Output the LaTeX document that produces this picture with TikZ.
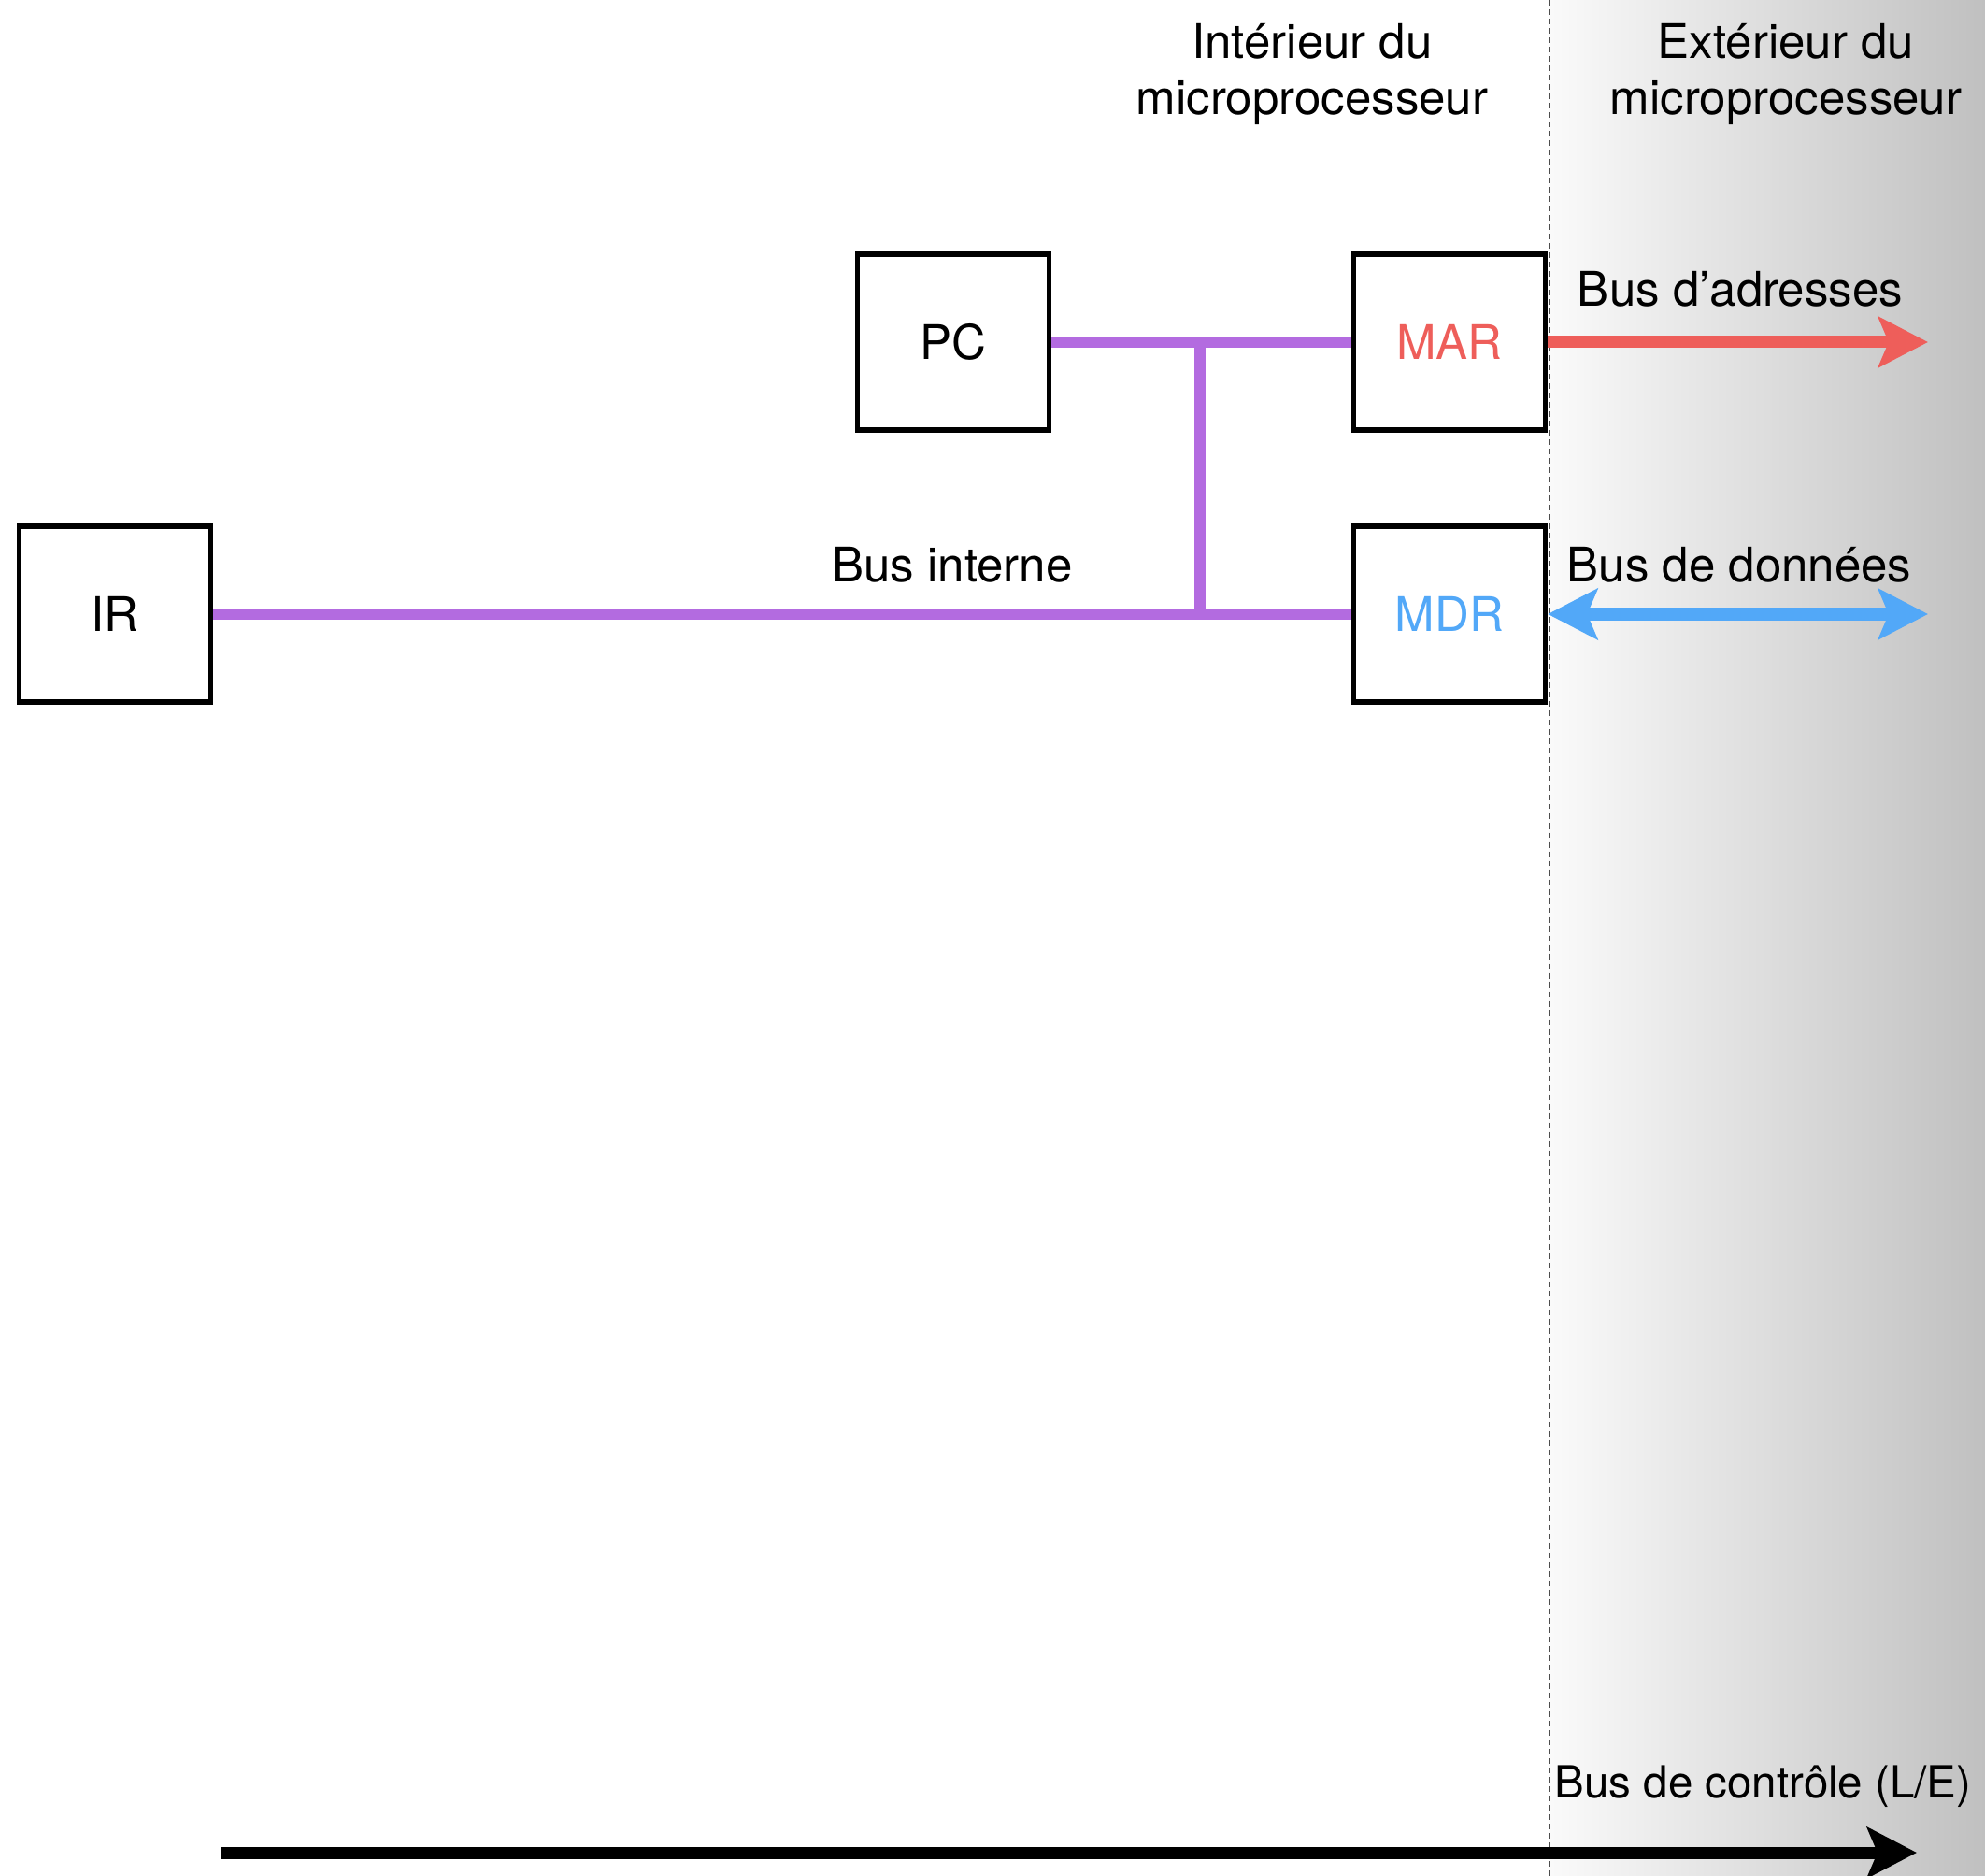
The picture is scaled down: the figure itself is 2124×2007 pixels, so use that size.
\documentclass[tikz,border=0pt]{standalone}
\usepackage{fontspec}
\setmainfont{TeX Gyre Heros}
\usetikzlibrary{arrows.meta}
\definecolor{busviolet}{HTML}{B36BE0}
\definecolor{busrouge}{HTML}{EE5E5A}
\definecolor{busbleu}{HTML}{52A8F8}
\definecolor{extL}{HTML}{FAFAFA}
\definecolor{extR}{HTML}{C0C0C0}
\begin{document}
\begin{tikzpicture}[x=0.01cm,y=-0.01cm,
  >={Stealth[length=5.3mm,width=5.4mm,inset=1.1mm]},
  reg/.style={draw,line width=1.5pt,minimum width=2.05cm,minimum height=1.88cm,
    font=\fontsize{14.5}{17.3}\selectfont},
  bus/.style={busviolet,line width=3.3pt},
  ext/.style={line width=3.7pt},
  lbl/.style={font=\fontsize{14.5}{17.3}\selectfont,inner sep=0pt}]
\useasboundingbox (0,0) rectangle (2124,2007);
% zone exterieure
\shade[left color=extL,right color=extR] (1658,0) rectangle (2124,2007);
\draw[gray!60!black,line width=0.45pt,dash pattern=on 0.6mm off 0.4mm] (1658,0) -- (1658,2007);
% registres
\node[reg] (PC) at (1020,366) {PC};
\node[reg,text=busrouge] (MAR) at (1551,366) {MAR};
\node[reg,text=busbleu] (MDR) at (1551,657) {MDR};
\node[reg] (IR) at (123,657) {IR};
% bus interne
\coordinate (haut) at (1284,366);
\coordinate (bas) at (1284,657);
\draw[bus] (PC) -- (MAR);
\draw[bus] (IR) -- (MDR);
\draw[bus] (haut) -- (bas);
% bus externes
\coordinate (adr) at (2063,366);
\coordinate (don) at (2063,657);
\coordinate (ctlA) at (236,1982);
\coordinate (ctlB) at (2051,1982);
\draw[->,ext,busrouge] (MAR) -- (adr);
\draw[<->,ext,busbleu] (MDR) -- (don);
\draw[->,ext] (ctlA) -- (ctlB);
% textes
\node[lbl,anchor=base] (adrlbl) at (1862,328) {Bus d’adresses};
\node[lbl,anchor=base] (donlbl) at (1861,623) {Bus de données};
\node[lbl,anchor=base] (intlbl) at (1019,623) {Bus interne};
\node[lbl,anchor=base west,font=\fontsize{13.5}{16}\selectfont] (ctllbl) at (1663,1923) {Bus de contrôle (L/E)};
\node[lbl,align=center,anchor=base] (interieur) at (1404,123) {Intérieur du\\microprocesseur};
\node[lbl,align=center,anchor=base] (exterieur) at (1911,123) {Extérieur du\\microprocesseur};
\end{tikzpicture}
\end{document}
